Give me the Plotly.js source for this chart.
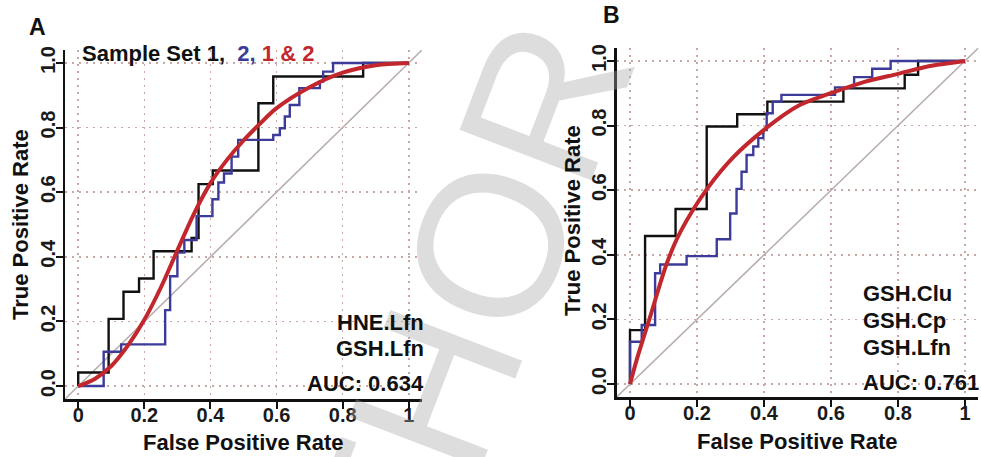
<!DOCTYPE html>
<html>
<head>
<meta charset="utf-8">
<script src="https://cdn.plot.ly/plotly-3.0.1.min.js"></script>
<style>
html,body{margin:0;padding:0;background:#fff;}
#chart{width:981px;height:457px;}
</style>
</head>
<body>
<div id="chart"></div>
<script>
// ---------- Data ----------
// Panel A: HNE.Lfn / GSH.Lfn
const aSet1Fpr = [0, 0, 0.092, 0.137, 0.184, 0.228, 0.343, 0.364, 0.407, 0.545, 0.590, 0.862, 1];
const aSet1Tpr = [0, 0.042, 0.208, 0.292, 0.333, 0.417, 0.458, 0.625, 0.667, 0.875, 0.958, 1, 1];
const aSet2Fpr = [0, 0.077, 0.130, 0.263, 0.278, 0.300, 0.321, 0.358, 0.406, 0.424, 0.441, 0.464, 0.484, 0.590, 0.610, 0.625, 0.640, 0.669, 0.731, 0.741, 0.771, 1];
const aSet2Tpr = [0, 0.106, 0.129, 0.235, 0.340, 0.413, 0.452, 0.526, 0.578, 0.630, 0.658, 0.710, 0.762, 0.777, 0.798, 0.834, 0.870, 0.922, 0.942, 0.973, 1, 1];
const aBothFpr = [0, 0.05, 0.10, 0.15, 0.20, 0.25, 0.30, 0.35, 0.40, 0.45, 0.50, 0.55, 0.60, 0.70, 0.80, 0.90, 1];
const aBothTpr = [0, 0.022, 0.062, 0.125, 0.205, 0.305, 0.42, 0.533, 0.628, 0.70, 0.76, 0.812, 0.86, 0.925, 0.97, 0.993, 1];

// Panel B: GSH.Clu / GSH.Cp / GSH.Lfn
const bSet1Fpr = [0, 0, 0.045, 0.136, 0.229, 0.320, 0.410, 0.637, 0.820, 0.860, 1];
const bSet1Tpr = [0, 0.167, 0.458, 0.542, 0.797, 0.835, 0.874, 0.915, 0.957, 1, 1];
const bSet2Fpr = [0, 0, 0.035, 0.075, 0.090, 0.169, 0.259, 0.299, 0.318, 0.333, 0.348, 0.368, 0.383, 0.398, 0.408, 0.426, 0.452, 0.612, 0.669, 0.723, 0.778, 1];
const bSet2Tpr = [0, 0.131, 0.183, 0.343, 0.370, 0.396, 0.448, 0.528, 0.604, 0.657, 0.709, 0.735, 0.761, 0.786, 0.838, 0.874, 0.895, 0.918, 0.950, 0.976, 1, 1];
const bBothFpr = [0, 0.02, 0.06, 0.11, 0.15, 0.23, 0.31, 0.41, 0.50, 0.60, 0.70, 0.80, 0.90, 1];
const bBothTpr = [0, 0.075, 0.208, 0.374, 0.47, 0.604, 0.704, 0.795, 0.86, 0.90, 0.935, 0.96, 0.985, 1];

// Chance line (abline) end points
const chanceLine = [-0.04, 1.04];

// Tick labels
const xTickVals = [0, 0.2, 0.4, 0.6, 0.8, 1];
const xTickText = ["0", "0.2", "0.4", "0.6", "0.8", "1"];
const yTickVals = [0, 0.2, 0.4, 0.6, 0.8, 1];
const yTickText = ["0.0", "0.2", "0.4", "0.6", "0.8", "1.0"];

// Text
const aMarkers = ["HNE.Lfn", "GSH.Lfn"];
const bMarkers = ["GSH.Clu", "GSH.Cp", "GSH.Lfn"];
const aAuc = "AUC: 0.634";
const bAuc = "AUC: 0.761";
const watermark = "AUTHOR COPY";

// ---------- Styling ----------
const W = 981, H = 457;
const px = v => v / W;
const py = v => 1 - v / H;
const FONT = "Liberation Sans, Arial, Helvetica, sans-serif";
const BLACK = "#111111", BLUE = "#3d3b9a", RED = "#c1272d", GREY = "#b8aeae", GRID = "#c9a7a7";

function stepTrace(x, y, color, xa, ya) {
  return {x: x, y: y, xaxis: xa, yaxis: ya, mode: "lines", type: "scatter",
          line: {color: color, width: 2.4, shape: "hv"}, hoverinfo: "skip"};
}
function smoothTrace(x, y, xa, ya) {
  return {x: x, y: y, xaxis: xa, yaxis: ya, mode: "lines", type: "scatter",
          line: {color: RED, width: 4, shape: "spline", smoothing: 0.9}, hoverinfo: "skip"};
}
function diagTrace(xa, ya) {
  return {x: chanceLine, y: chanceLine, xaxis: xa, yaxis: ya, mode: "lines", type: "scatter",
          line: {color: GREY, width: 1.6}, hoverinfo: "skip", cliponaxis: false};
}

const data = [
  diagTrace("x", "y"),
  stepTrace(aSet1Fpr, aSet1Tpr, BLACK, "x", "y"),
  stepTrace(aSet2Fpr, aSet2Tpr, BLUE, "x", "y"),
  smoothTrace(aBothFpr, aBothTpr, "x", "y"),
  diagTrace("x2", "y2"),
  stepTrace(bSet1Fpr, bSet1Tpr, BLACK, "x2", "y2"),
  stepTrace(bSet2Fpr, bSet2Tpr, BLUE, "x2", "y2"),
  smoothTrace(bBothFpr, bBothTpr, "x2", "y2")
];

function xAxis(domain, anchor) {
  return {domain: domain, anchor: anchor, range: [-0.04, 1.04], fixedrange: true,
          tickvals: xTickVals, ticktext: xTickText,
          ticks: "outside", ticklen: 7, tickwidth: 2, tickcolor: BLACK,
          ticklabelstandoff: -11,
          showline: true, linecolor: BLACK, linewidth: 2.5, mirror: false,
          showgrid: true, gridcolor: GRID, gridwidth: 1.6, griddash: "2px,5px",
          zeroline: false,
          tickfont: {family: FONT, size: 20, color: "#1a1a1a", weight: "bold"}};
}
function yAxis(domain, anchor) {
  return {domain: domain, anchor: anchor, range: [-0.04, 1.04], fixedrange: true,
          tickvals: yTickVals, ticktext: yTickText, tickangle: -90,
          ticks: "outside", ticklen: 7, tickwidth: 2, tickcolor: BLACK,
          ticklabelstandoff: -7,
          showline: true, linecolor: BLACK, linewidth: 2.5, mirror: false,
          showgrid: true, gridcolor: GRID, gridwidth: 1.6, griddash: "2px,5px",
          zeroline: false,
          tickfont: {family: FONT, size: 20, color: "#1a1a1a", weight: "bold"}};
}

function txt(text, x, y, xanchor, size, extra) {
  return Object.assign({text: text, xref: "paper", yref: "paper", x: px(x), y: py(y),
          xanchor: xanchor, yanchor: "middle", showarrow: false,
          font: {family: FONT, size: size, color: "#111111", weight: "bold"}}, extra || {});
}

const annotations = [
  // watermark
  {text: watermark, xref: "paper", yref: "paper", x: px(530), y: py(139),
   xanchor: "center", yanchor: "middle", showarrow: false, textangle: -69,
   font: {family: FONT, size: 205, color: "rgba(165,165,165,0.38)", weight: "normal"}},
  // panel letters
  txt("A", 37, 27, "center", 23),
  txt("B", 611, 15, "center", 23),
  // title of panel A
  txt("Sample Set 1,  <span style='color:" + BLUE + "'>2,</span> <span style='color:" + RED + "'>1 &amp; 2</span>", 80, 53, "left", 22),
  // axis titles
  txt("False Positive Rate", 243.5, 442, "center", 22),
  txt("False Positive Rate", 797.5, 441, "center", 22),
  txt("True Positive Rate", 20, 225, "center", 22, {textangle: -90}),
  txt("True Positive Rate", 572, 221, "center", 22, {textangle: -90}),
  // panel A labels
  txt(aMarkers[0], 426, 322, "right", 22),
  txt(aMarkers[1], 426, 348, "right", 22),
  txt(aAuc, 426, 383, "right", 22),
  // panel B labels
  txt(bMarkers[0], 861, 293, "left", 22),
  txt(bMarkers[1], 861, 320, "left", 22),
  txt(bMarkers[2], 861, 347, "left", 22),
  txt(bAuc, 861, 382, "left", 22)
];

const layout = {
  width: W, height: H,
  margin: {l: 0, r: 0, t: 0, b: 0, pad: 0},
  paper_bgcolor: "#ffffff", plot_bgcolor: "rgba(0,0,0,0)",
  showlegend: false,
  xaxis: xAxis([px(65), px(422)], "y"),
  yaxis: yAxis([py(399), py(50)], "x"),
  xaxis2: xAxis([px(616.6), px(978.4)], "y2"),
  yaxis2: yAxis([py(397), py(48)], "x2"),
  annotations: annotations
};

Plotly.newPlot("chart", data, layout, {staticPlot: true, displayModeBar: false});
</script>
</body>
</html>
